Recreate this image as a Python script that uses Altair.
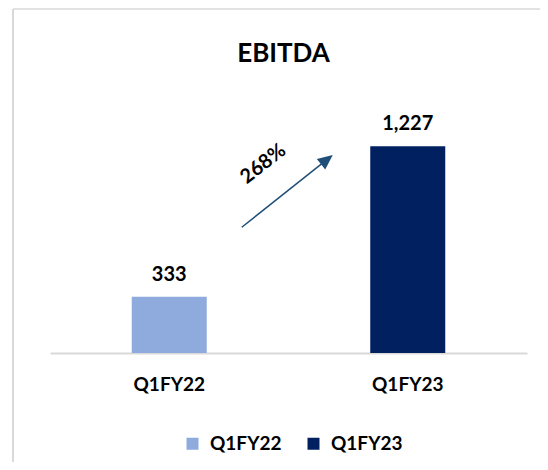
import altair as alt
import pandas as pd

# ---- data ----
quarters = ["Q1FY22", "Q1FY23"]
ebitda = [333, 1227]
bar_colors = ["#8FAADC", "#002060"]
chart_title = ["EBITDA"]
growth_text = ["268%"]
# growth arrow, x in category-slot units (0..2), y in EBITDA units
arrow_x = [0.804, 1.161]
arrow_y = [746, 1147]
growth_x = [0.894]
growth_y = [1121]

FONT = "Lato"
ARROW = "#1F4E79"
GRID = "#D9D9D9"
W, H = 477, 236
YDOM = [0, 1400]

bars_df = pd.DataFrame({"Quarter": quarters, "EBITDA": ebitda})
arrow_df = pd.DataFrame({"x": [arrow_x[0]], "y": [arrow_y[0]],
                         "x2": [arrow_x[1]], "y2": [arrow_y[1]]})
head_df = pd.DataFrame({"x": [arrow_x[1]], "y": [arrow_y[1]]})
pct_df = pd.DataFrame({"x": growth_x, "y": growth_y, "t": growth_text})
title_df = pd.DataFrame({"t": chart_title})

yscale = alt.Scale(domain=YDOM, nice=False, zero=True)
xband = alt.Scale(domain=quarters, paddingInner=0, paddingOuter=0)
xlin = alt.Scale(domain=[0, 2], nice=False, zero=False)

x_axis = alt.Axis(title=None, labelAngle=0, ticks=False, grid=False,
                  domainColor=GRID, domainWidth=2,
                  labelFont=FONT, labelFontSize=19, labelFontWeight="bold",
                  labelColor="#000000", labelPadding=22)

legend = alt.Legend(title=None, orient="none", legendX=133, legendY=317,
                    direction="horizontal", symbolType="square", symbolSize=144,
                    symbolStrokeWidth=0, labelFont=FONT, labelFontSize=19,
                    labelFontWeight="bold", labelColor="#000000", labelOffset=8,
                    columnPadding=22, padding=0)

bars = alt.Chart(bars_df).mark_bar(size=75).encode(
    x=alt.X("Quarter:N", sort=quarters, scale=xband, axis=x_axis),
    y=alt.Y("EBITDA:Q", scale=yscale, axis=None),
    color=alt.Color("Quarter:N", sort=quarters,
                    scale=alt.Scale(domain=quarters, range=bar_colors),
                    legend=legend),
)

labels = alt.Chart(bars_df).mark_text(
    dy=-16, font=FONT, fontSize=20, fontWeight="bold", color="#000000",
    baseline="alphabetic", align="center"
).encode(
    x=alt.X("Quarter:N", sort=quarters, scale=xband, axis=None),
    y=alt.Y("EBITDA:Q", scale=yscale, axis=None),
    text=alt.Text("EBITDA:Q", format=",.0f"),
)

rule = alt.Chart(arrow_df).mark_rule(color=ARROW, strokeWidth=1.5).encode(
    x=alt.X("x:Q", scale=xlin, axis=None),
    y=alt.Y("y:Q", scale=yscale, axis=None),
    x2="x2:Q", y2="y2:Q",
)

head = alt.Chart(head_df).mark_point(
    shape="M0,-1L0.9,1L-0.9,1Z", filled=True, opacity=1, color=ARROW,
    size=225, angle=51.5, strokeWidth=0
).encode(
    x=alt.X("x:Q", scale=xlin, axis=None),
    y=alt.Y("y:Q", scale=yscale, axis=None),
)

pct = alt.Chart(pct_df).mark_text(
    font=FONT, fontSize=20, fontWeight="bold", color="#000000",
    angle=322, align="center", baseline="middle"
).encode(
    x=alt.X("x:Q", scale=xlin, axis=None),
    y=alt.Y("y:Q", scale=yscale, axis=None),
    text="t:N",
)

title = alt.Chart(title_df).mark_text(
    font=FONT, fontSize=26, fontWeight="bold", color="#000000",
    align="center", baseline="alphabetic"
).encode(x=alt.value(233.5), y=alt.value(-55), text="t:N")

frame_df = pd.DataFrame({"a": [0]})
border_left = alt.Chart(frame_df).mark_rule(color=GRID, strokeWidth=2).encode(
    x=alt.value(-37), y=alt.value(-108), y2=alt.value(H + 200))
border_top = alt.Chart(frame_df).mark_rule(color=GRID, strokeWidth=1.5).encode(
    x=alt.value(-37), x2=alt.value(W + 100), y=alt.value(-108))

chart = alt.layer(border_left, border_top, title, bars, labels, rule, head, pct).resolve_scale(
    x="independent"
).properties(
    width=W, height=H,
    padding={"left": 42, "top": 109, "right": 13, "bottom": 109},
    autosize=alt.AutoSizeParams(type="none"),
    background="#FFFFFF",
).configure_view(stroke=None)

chart.save("out.html", embed_options={"renderer": "svg", "actions": False})
